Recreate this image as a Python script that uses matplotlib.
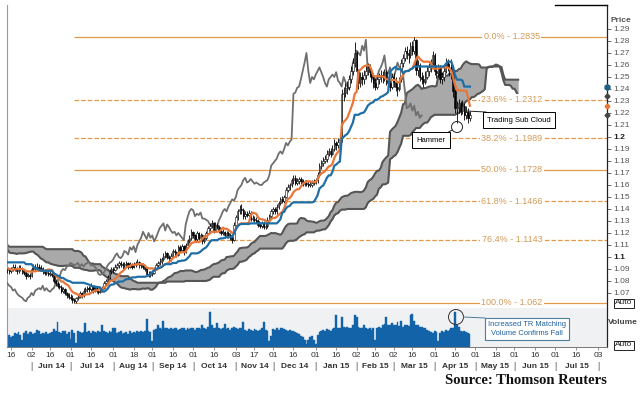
import numpy as np
import pandas as pd
import matplotlib
matplotlib.use('Agg')
import matplotlib.pyplot as plt
import matplotlib.transforms as mtransforms
from matplotlib.patches import Ellipse
from matplotlib.lines import Line2D

plt.rcParams['font.family'] = ['Liberation Sans', 'DejaVu Sans']

# ---------------- data (USD/CAD daily, business days from 2014-01-27) ----------------
start_date = '2014-01-27'
close = [
    1.108, 1.112, 1.114, 1.112, 1.114,
    1.107, 1.104, 1.109, 1.103, 1.100,
    1.098, 1.095, 1.100, 1.098, 1.096,
    1.100, 1.104, 1.108, 1.110, 1.108,
    1.106, 1.108, 1.112, 1.110, 1.107,
    1.110, 1.107, 1.103, 1.102, 1.106,
    1.110, 1.112, 1.112, 1.110, 1.118,
    1.117, 1.121, 1.124, 1.126, 1.123,
    1.117, 1.118, 1.112, 1.107, 1.105,
    1.105, 1.104, 1.100, 1.102, 1.102,
    1.098, 1.094, 1.091, 1.093, 1.096,
    1.098, 1.100, 1.104, 1.102, 1.102,
    1.103, 1.103, 1.102, 1.102, 1.104,
    1.100, 1.098, 1.096, 1.095, 1.093,
    1.092, 1.089, 1.087, 1.088, 1.090,
    1.088, 1.089, 1.090, 1.088, 1.090,
    1.092, 1.090, 1.088, 1.091, 1.090,
    1.088, 1.087, 1.084, 1.085, 1.084,
    1.090, 1.092, 1.091, 1.092, 1.091,
    1.090, 1.088, 1.087, 1.087, 1.086,
    1.086, 1.085, 1.080, 1.078, 1.076,
    1.075, 1.072, 1.073, 1.070, 1.068,
    1.067, 1.066, 1.064, 1.063, 1.066,
    1.067, 1.070, 1.068, 1.072, 1.073,
    1.074, 1.073, 1.076, 1.072, 1.074,
    1.072, 1.071, 1.073, 1.074, 1.078,
    1.080, 1.083, 1.088, 1.090, 1.089,
    1.092, 1.093, 1.095, 1.094, 1.093,
    1.094, 1.095, 1.092, 1.094, 1.092,
    1.094, 1.095, 1.096, 1.093, 1.093,
    1.092, 1.090, 1.086, 1.085, 1.086,
    1.087, 1.090, 1.093, 1.095, 1.096,
    1.098, 1.101, 1.103, 1.100, 1.099,
    1.101, 1.105, 1.104, 1.102, 1.108,
    1.106, 1.109, 1.104, 1.110, 1.113,
    1.116, 1.121, 1.118, 1.115, 1.120,
    1.116, 1.118, 1.113, 1.116, 1.120,
    1.124, 1.126, 1.128, 1.122, 1.127,
    1.125, 1.122, 1.120, 1.121, 1.118,
    1.120, 1.118, 1.116, 1.114, 1.127,
    1.133, 1.138, 1.140, 1.139, 1.134,
    1.136, 1.135, 1.137, 1.132, 1.132,
    1.131, 1.130, 1.127, 1.126, 1.128,
    1.125, 1.126, 1.131, 1.134, 1.138,
    1.140, 1.138, 1.142, 1.145, 1.148,
    1.147, 1.150, 1.156, 1.158, 1.160,
    1.164, 1.166, 1.162, 1.163, 1.165,
    1.163, 1.161, 1.162, 1.161, 1.160,
    1.160, 1.162, 1.163, 1.164, 1.168,
    1.176, 1.178, 1.180, 1.182, 1.186,
    1.188, 1.186, 1.190, 1.195, 1.193,
    1.196, 1.198, 1.236, 1.237, 1.241,
    1.242, 1.248, 1.255, 1.262, 1.270,
    1.255, 1.245, 1.250, 1.248, 1.252,
    1.255, 1.258, 1.254, 1.250, 1.245,
    1.242, 1.248, 1.250, 1.252, 1.250,
    1.254, 1.247, 1.245, 1.242, 1.250,
    1.246, 1.242, 1.240, 1.248, 1.262,
    1.266, 1.272, 1.270, 1.268, 1.276,
    1.272, 1.281, 1.256, 1.260, 1.250,
    1.248, 1.246, 1.250, 1.255, 1.258,
    1.262, 1.268, 1.255, 1.253, 1.258,
    1.248, 1.250, 1.255, 1.262, 1.258,
    1.258, 1.252, 1.238, 1.224, 1.225,
    1.228, 1.222, 1.226, 1.218, 1.221,
    1.216, 1.218,
]
high = [
    1.110, 1.114, 1.117, 1.116, 1.116,
    1.116, 1.109, 1.111, 1.111, 1.105,
    1.102, 1.100, 1.102, 1.101, 1.100,
    1.102, 1.106, 1.110, 1.112, 1.113,
    1.110, 1.110, 1.114, 1.114, 1.112,
    1.112, 1.112, 1.109, 1.105, 1.108,
    1.112, 1.114, 1.115, 1.114, 1.120,
    1.121, 1.123, 1.126, 1.128, 1.127,
    1.125, 1.120, 1.119, 1.114, 1.109,
    1.107, 1.107, 1.106, 1.104, 1.104,
    1.104, 1.100, 1.096, 1.095, 1.098,
    1.100, 1.102, 1.106, 1.105, 1.104,
    1.105, 1.106, 1.105, 1.104, 1.106,
    1.106, 1.102, 1.100, 1.098, 1.097,
    1.095, 1.094, 1.091, 1.090, 1.092,
    1.092, 1.091, 1.092, 1.091, 1.092,
    1.094, 1.094, 1.092, 1.093, 1.093,
    1.092, 1.090, 1.089, 1.087, 1.087,
    1.092, 1.094, 1.094, 1.095, 1.094,
    1.093, 1.092, 1.090, 1.089, 1.089,
    1.088, 1.088, 1.087, 1.082, 1.080,
    1.078, 1.077, 1.075, 1.074, 1.071,
    1.070, 1.069, 1.068, 1.066, 1.067,
    1.069, 1.072, 1.071, 1.074, 1.075,
    1.076, 1.076, 1.078, 1.077, 1.076,
    1.076, 1.074, 1.075, 1.076, 1.080,
    1.082, 1.085, 1.090, 1.092, 1.092,
    1.094, 1.095, 1.097, 1.097, 1.096,
    1.096, 1.097, 1.096, 1.096, 1.095,
    1.096, 1.097, 1.098, 1.097, 1.095,
    1.095, 1.093, 1.091, 1.088, 1.088,
    1.089, 1.092, 1.095, 1.097, 1.099,
    1.100, 1.103, 1.105, 1.104, 1.102,
    1.103, 1.107, 1.107, 1.105, 1.110,
    1.110, 1.111, 1.110, 1.112, 1.115,
    1.118, 1.123, 1.122, 1.119, 1.122,
    1.121, 1.120, 1.119, 1.118, 1.122,
    1.126, 1.128, 1.131, 1.129, 1.129,
    1.128, 1.127, 1.124, 1.123, 1.122,
    1.122, 1.122, 1.120, 1.118, 1.129,
    1.135, 1.140, 1.143, 1.144, 1.141,
    1.138, 1.138, 1.139, 1.138, 1.135,
    1.134, 1.133, 1.132, 1.129, 1.130,
    1.130, 1.128, 1.133, 1.136, 1.140,
    1.142, 1.142, 1.144, 1.147, 1.150,
    1.151, 1.152, 1.158, 1.161, 1.162,
    1.166, 1.168, 1.168, 1.166, 1.167,
    1.167, 1.165, 1.164, 1.164, 1.163,
    1.163, 1.164, 1.165, 1.166, 1.171,
    1.178, 1.181, 1.183, 1.185, 1.189,
    1.191, 1.191, 1.193, 1.198, 1.197,
    1.199, 1.201, 1.240, 1.242, 1.245,
    1.247, 1.252, 1.259, 1.266, 1.279,
    1.272, 1.257, 1.254, 1.254, 1.256,
    1.260, 1.262, 1.261, 1.257, 1.253,
    1.249, 1.251, 1.253, 1.256, 1.255,
    1.257, 1.256, 1.250, 1.248, 1.253,
    1.253, 1.250, 1.246, 1.250, 1.265,
    1.269, 1.275, 1.276, 1.273, 1.279,
    1.280, 1.2835, 1.282, 1.264, 1.262,
    1.254, 1.252, 1.255, 1.259, 1.262,
    1.265, 1.272, 1.270, 1.260, 1.261,
    1.260, 1.254, 1.258, 1.266, 1.265,
    1.262, 1.265, 1.254, 1.240, 1.230,
    1.232, 1.230, 1.231, 1.228, 1.226,
    1.224, 1.222,
]
low = [
    1.103, 1.106, 1.110, 1.109, 1.110,
    1.105, 1.101, 1.102, 1.101, 1.098,
    1.096, 1.093, 1.093, 1.096, 1.094,
    1.094, 1.098, 1.102, 1.106, 1.106,
    1.104, 1.104, 1.106, 1.108, 1.105,
    1.105, 1.105, 1.101, 1.100, 1.100,
    1.104, 1.108, 1.109, 1.107, 1.109,
    1.114, 1.115, 1.119, 1.122, 1.121,
    1.115, 1.115, 1.110, 1.105, 1.103,
    1.103, 1.102, 1.098, 1.099, 1.099,
    1.096, 1.092, 1.089, 1.090, 1.092,
    1.094, 1.096, 1.099, 1.100, 1.100,
    1.100, 1.101, 1.100, 1.100, 1.100,
    1.098, 1.096, 1.094, 1.093, 1.091,
    1.090, 1.087, 1.085, 1.085, 1.087,
    1.086, 1.087, 1.087, 1.086, 1.087,
    1.088, 1.088, 1.086, 1.087, 1.088,
    1.086, 1.085, 1.082, 1.083, 1.082,
    1.083, 1.088, 1.089, 1.089, 1.089,
    1.088, 1.086, 1.085, 1.085, 1.084,
    1.084, 1.083, 1.078, 1.076, 1.074,
    1.073, 1.070, 1.070, 1.068, 1.066,
    1.065, 1.064, 1.062, 1.062, 1.062,
    1.064, 1.066, 1.066, 1.067, 1.070,
    1.071, 1.071, 1.072, 1.070, 1.071,
    1.070, 1.069, 1.070, 1.071, 1.073,
    1.077, 1.079, 1.082, 1.086, 1.087,
    1.088, 1.090, 1.091, 1.092, 1.090,
    1.091, 1.092, 1.090, 1.091, 1.090,
    1.091, 1.092, 1.093, 1.091, 1.091,
    1.090, 1.088, 1.084, 1.083, 1.083,
    1.084, 1.086, 1.089, 1.091, 1.093,
    1.094, 1.097, 1.099, 1.098, 1.097,
    1.097, 1.099, 1.101, 1.100, 1.101,
    1.104, 1.104, 1.102, 1.103, 1.108,
    1.112, 1.114, 1.116, 1.113, 1.113,
    1.114, 1.114, 1.111, 1.112, 1.114,
    1.118, 1.122, 1.124, 1.120, 1.121,
    1.123, 1.120, 1.118, 1.118, 1.116,
    1.116, 1.116, 1.114, 1.112, 1.113,
    1.125, 1.131, 1.136, 1.136, 1.132,
    1.132, 1.133, 1.133, 1.130, 1.130,
    1.129, 1.128, 1.125, 1.124, 1.124,
    1.123, 1.123, 1.124, 1.129, 1.132,
    1.136, 1.136, 1.136, 1.140, 1.143,
    1.145, 1.145, 1.149, 1.154, 1.156,
    1.158, 1.161, 1.160, 1.160, 1.161,
    1.161, 1.159, 1.159, 1.159, 1.158,
    1.158, 1.158, 1.160, 1.161, 1.162,
    1.167, 1.173, 1.176, 1.178, 1.179,
    1.184, 1.183, 1.185, 1.188, 1.189,
    1.191, 1.193, 1.196, 1.230, 1.233,
    1.236, 1.239, 1.245, 1.252, 1.258,
    1.252, 1.240, 1.242, 1.243, 1.244,
    1.248, 1.252, 1.250, 1.246, 1.241,
    1.239, 1.240, 1.244, 1.246, 1.245,
    1.247, 1.243, 1.241, 1.238, 1.240,
    1.242, 1.238, 1.234, 1.238, 1.246,
    1.258, 1.263, 1.265, 1.262, 1.266,
    1.268, 1.269, 1.252, 1.251, 1.247,
    1.244, 1.242, 1.244, 1.248, 1.251,
    1.254, 1.260, 1.252, 1.249, 1.250,
    1.245, 1.244, 1.247, 1.253, 1.255,
    1.251, 1.248, 1.233, 1.220, 1.212,
    1.220, 1.218, 1.219, 1.214, 1.215,
    1.212, 1.213,
]

# daily volume (% of panel height), starting 2014-05-14
volume_start = '2014-05-14'
volume = [
    30, 32, 28,
    30, 38, 35, 40, 33,
    20, 38, 42, 36, 40,
    40, 36, 38, 45, 42,
    35, 38, 36, 40, 34,
    38, 40, 48, 42, 68,
    40, 38, 42, 44, 36,
    40, 22, 45, 38, 12,
    42, 40, 38, 40, 65,
    40, 42, 38, 44, 40,
    38, 42, 40, 60, 42,
    40, 38, 44, 40, 50,
    50, 38, 40, 42, 36,
    38, 40, 36, 42, 38,
    40, 38, 42, 40, 44,
    40, 42, 75, 44, 40,
    15, 45, 48, 58, 50,
    48, 70, 50, 52, 48,
    50, 48, 52, 50, 46,
    48, 52, 50, 46, 50,
    48, 52, 50, 46, 50,
    52, 48, 60, 50, 48,
    54, 95, 60, 52, 50,
    65, 50, 48, 52, 62,
    48, 50, 46, 52, 55,
    50, 48, 52, 50, 68,
    46, 44, 48, 45, 44,
    48, 45, 44, 46, 50,
    68, 46, 44, 15, 30,
    48, 45, 50, 46, 52,
    50, 48, 46, 44, 45,
    42, 44, 40, 38, 36,
    30, 28, 20, 8, 18,
    28, 30, 20, 8, 32,
    40, 44, 46, 42, 48,
    45, 44, 48, 50, 85,
    50, 52, 80, 55, 52,
    55, 50, 52, 58, 85,
    80, 55, 52, 50, 60,
    52, 48, 50, 46, 50,
    20, 52, 55, 50, 60,
    62, 80, 60, 58, 64,
    60, 58, 68, 56, 70,
    55, 58, 60, 56, 85,
    88, 70, 60, 58, 54,
    55, 52, 50, 45, 42,
    40, 38, 42, 40, 15,
    38, 42, 40, 45, 44,
    46, 50, 52, 95, 60,
    55, 42, 40, 44, 40,
    38, 36,
]

fib_labels = ['0.0%', '23.6%', '38.2%', '50.0%', '61.8%', '76.4%', '100.0%']
fib_prices = [1.2835, 1.2312, 1.1989, 1.1728, 1.1466, 1.1143, 1.062]
fib_start = '2014-07-03'

day_tick_dates = ['2014-05-16', '2014-06-02', '2014-06-16', '2014-07-01', '2014-07-16',
                  '2014-08-01', '2014-08-18', '2014-09-01', '2014-09-16', '2014-10-01',
                  '2014-10-16', '2014-11-03', '2014-11-17', '2014-12-01', '2014-12-16',
                  '2015-01-01', '2015-01-16', '2015-02-02', '2015-02-16', '2015-03-02',
                  '2015-03-16', '2015-04-01', '2015-04-16', '2015-05-01', '2015-05-18',
                  '2015-06-01', '2015-06-16', '2015-07-01', '2015-07-16', '2015-08-03']
day_tick_labels = ['16', '02', '16', '01', '16', '01', '18', '01', '16', '01', '16', '03',
                   '17', '01', '16', '01', '16', '02', '16', '02', '16', '01', '16', '01',
                   '18', '01', '16', '01', '16', '03']
month_labels = ['Jun 14', 'Jul 14', 'Aug 14', 'Sep 14', 'Oct 14', 'Nov 14', 'Dec 14',
                'Jan 15', 'Feb 15', 'Mar 15', 'Apr 15', 'May 15', 'Jun 15', 'Jul 15']
month_starts = ['2014-06-01', '2014-07-01', '2014-08-01', '2014-09-01', '2014-10-01',
                '2014-11-01', '2014-12-01', '2015-01-01', '2015-02-01', '2015-03-01',
                '2015-04-01', '2015-05-01', '2015-06-01', '2015-07-01', '2015-08-01']

# ---------------- derived (ichimoku) ----------------
days = pd.bdate_range(start_date, '2015-09-30')
n = len(close)
xi = np.arange(n)
C = pd.Series(close)
Hs = pd.Series(high)
Ls = pd.Series(low)
O = pd.Series([close[0]] + close[:-1])
tenkan = (Hs.rolling(9).max() + Ls.rolling(9).min()) / 2
kijun = (Hs.rolling(26).max() + Ls.rolling(26).min()) / 2
spanA = (tenkan + kijun) / 2
spanB = (Hs.rolling(52).max() + Ls.rolling(52).min()) / 2

def pos(d):
    return days.searchsorted(pd.Timestamp(d))

# ---------------- layout ----------------
W, H = 640, 393
fig = plt.figure(figsize=(W / 100, H / 100), dpi=100)
fig.patch.set_facecolor('white')
ax = fig.add_axes([7 / W, 1 - 307 / H, 600 / W, 302 / H])
axv = fig.add_axes([7 / W, 1 - 347 / H, 600 / W, 39 / H])
XMIN, XMAX = 76.8, 399.8
ax.set_xlim(XMIN, XMAX)
axv.set_xlim(XMIN, XMAX)
ax.set_ylim(1.0583, 1.3100)
axv.set_ylim(0, 105)

# fib lines
fs = pos(fib_start)
fib_ls = ['-', '--', '--', '-', '--', '--', '-']
for lab, p, ls in zip(fib_labels, fib_prices, fib_ls):
    ax.hlines(p, fs, XMAX, colors='#e39a4a', linestyles=ls, lw=0.9, zorder=1)
    ax.text(348.6, p, f'{lab} - {p:g}', ha='center', va='center', fontsize=6.5,
            color='#d39a58', zorder=7,
            bbox=dict(boxstyle='square,pad=0.15', fc='white', ec='none'))

# cloud
xs = xi + 26
ax.fill_between(xs, spanA, spanB, color='#a9a9a9', lw=0, zorder=2)
ax.plot(xs, spanA, color='#555555', lw=1.5, zorder=2.5)
ax.plot(xs, spanB, color='#555555', lw=1.5, zorder=2.5)

# lagging span
ax.plot(xi - 26, C, color='#6f6f6f', lw=1.3, zorder=3)

# candles
vis = xi >= 76
xv = xi[vis]
o = O.values[vis]; c = C.values[vis]; h = Hs.values[vis]; l = Ls.values[vis]
ax.vlines(xv, l, h, color='black', lw=0.6, zorder=4)
up = c >= o
bot = np.minimum(o, c)
hgt = np.maximum(np.abs(c - o), 0.0006)
ax.bar(xv[up], hgt[up], bottom=bot[up], width=0.75, color='white', edgecolor='black',
       lw=0.4, zorder=4.5)
ax.bar(xv[~up], hgt[~up], bottom=bot[~up], width=0.75, color='black', edgecolor='black',
       lw=0.4, zorder=4.5)

# conversion / base lines
ax.plot(xi[vis], tenkan[vis], color='#e8773a', lw=1.6, zorder=5)
ax.plot(xi[vis], kijun[vis], color='#1f6fa6', lw=1.6, zorder=5)

# right-axis last-value markers
ax.plot([XMAX], [kijun.iloc[-1]], marker='h', ms=4, color='#1f5f86', clip_on=False, zorder=8)
ax.plot([XMAX], [spanA.iloc[-1]], marker='D', ms=2.5, color='#444444', clip_on=False, zorder=8)
ax.plot([XMAX], [tenkan.iloc[-1]], marker='D', ms=2.5, color='#e8773a', clip_on=False, zorder=8)
ax.plot([XMAX], [C.iloc[-1]], marker='D', ms=2.5, color='#444444', clip_on=False, zorder=8)

# price axis
ticks = np.round(np.arange(1.07, 1.2951, 0.01), 2)
ax.yaxis.tick_right()
ax.set_yticks(ticks)
labels = []
for t in ticks:
    labels.append(f'{t:.1f}' if abs(t * 10 - round(t * 10)) < 1e-6 else f'{t:.2f}')
ax.set_yticklabels(labels)
for t, tl in zip(ticks, ax.get_yticklabels()):
    if abs(t * 10 - round(t * 10)) < 1e-6:
        tl.set_fontweight('bold'); tl.set_color('#222222')
    else:
        tl.set_color('#555555')
ax.tick_params(axis='y', right=True, length=3, width=0.6, color='#555555', labelsize=6, pad=1.5)
ax.tick_params(axis='x', bottom=False, labelbottom=False)
ax.set_facecolor('white')
for s in ['top', 'bottom']:
    ax.spines[s].set_visible(False)
ax.spines['left'].set_color('#9a9a9a'); ax.spines['left'].set_linewidth(0.8)
ax.spines['right'].set_color('#222222'); ax.spines['right'].set_linewidth(0.9)

# volume
vx = np.arange(pos(volume_start), pos(volume_start) + len(volume))
axv.set_facecolor('#f0f1f3')
axv.fill_between(vx, volume, step='mid', color='#1363a9', edgecolor='#1363a9', lw=0.3,
                 zorder=2)
axv.set_yticks([])
axv.set_xticks([pos(d) for d in day_tick_dates])
axv.set_xticklabels(day_tick_labels)
axv.tick_params(axis='x', length=2, width=0.5, color='#666666', labelsize=6, pad=1.5,
                labelcolor='#333333')
axv.spines['top'].set_visible(False)
axv.spines['left'].set_color('#9a9a9a'); axv.spines['left'].set_linewidth(0.8)
axv.spines['right'].set_color('#222222'); axv.spines['right'].set_linewidth(0.9)
axv.spines['bottom'].set_color('#777777'); axv.spines['bottom'].set_linewidth(0.7)

# month labels
trans = mtransforms.blended_transform_factory(axv.transData, axv.transAxes)
ms_pos = [pos(d) for d in month_starts]
for a, b, lab in zip(ms_pos[:-1], ms_pos[1:], month_labels):
    axv.text((a + b) / 2, -0.50, lab, transform=trans, ha='center', va='center',
             fontsize=6, fontweight='bold', color='#333333')
for a in ms_pos:
    axv.text(a, -0.50, '|', transform=trans, ha='center', va='center', fontsize=6.5,
             color='#555555')

# ---------------- labels & annotations (figure pixels) ----------------
def fx(x):
    return x / W
def fy(y):
    return 1 - y / H

fig.lines.append(Line2D([fx(555), fx(607)], [fy(4.5), fy(4.5)], color='black', lw=1.0,
                        transform=fig.transFigure))
fig.text(fx(621), fy(20), 'Price', fontsize=6, fontweight='bold', color='#555555',
         ha='center', va='center')
fig.text(fx(624), fy(303), 'Auto', fontsize=6, color='#222222', ha='center', va='center',
         bbox=dict(boxstyle='square,pad=0.12', fc='white', ec='black', lw=0.6))
fig.text(fx(623), fy(323), 'Volume', fontsize=6, fontweight='bold', color='#444444',
         ha='center', va='center')
fig.text(fx(624), fy(345), 'Auto', fontsize=6, color='#222222', ha='center', va='center',
         bbox=dict(boxstyle='square,pad=0.12', fc='white', ec='black', lw=0.6))

# trading sub cloud
fig.lines.append(Line2D([fx(466), fx(486)], [fy(111), fy(112)], color='#222222', lw=0.7,
                        transform=fig.transFigure))
fig.text(fx(519), fy(120), 'Trading Sub Cloud', fontsize=5.5, color='black',
         ha='center', va='center',
         bbox=dict(boxstyle='square,pad=0.55', fc='white', ec='black', lw=0.7))
# hammer
fig.patches.append(Ellipse((fx(457), fy(127)), 11 / W, 11 / H, fill=False, ec='#222222',
                           lw=0.7, transform=fig.transFigure))
fig.lines.append(Line2D([fx(452), fx(447)], [fy(130), fy(133)], color='#222222', lw=0.7,
                        transform=fig.transFigure))
fig.text(fx(431), fy(140), 'Hammer', fontsize=5.5, color='black', ha='center', va='center',
         bbox=dict(boxstyle='square,pad=0.6', fc='white', ec='black', lw=0.7))
# volume note
fig.patches.append(Ellipse((fx(456), fy(317)), 15 / W, 15 / H, fill=False, ec='#333333',
                           lw=0.7, transform=fig.transFigure))
fig.lines.append(Line2D([fx(463.5), fx(485)], [fy(317), fy(318)], color='#4a7a9a', lw=0.7,
                        transform=fig.transFigure))
fig.text(fx(527), fy(329), 'Increased TR Matching\nVolume Confirms Fall', fontsize=5.4,
         color='#1f5f9f', ha='center', va='center', linespacing=1.3,
         bbox=dict(boxstyle='square,pad=0.45', fc='white', ec='#4a7fa0', lw=0.8))

fig.text(fx(607), fy(381), 'Source: Thomson Reuters', fontsize=10.5, fontweight='bold',
         family=['Liberation Serif', 'DejaVu Serif'], color='#111111', ha='right', va='center')

fig.savefig('out.png', dpi=100, facecolor='white')
